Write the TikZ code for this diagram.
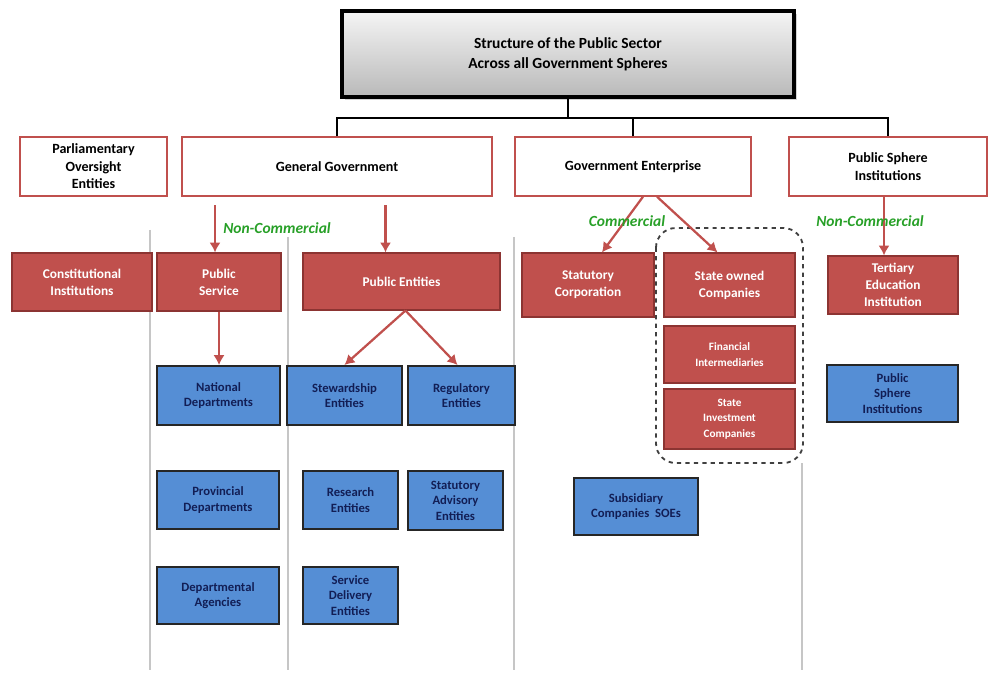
\documentclass[tikz,border=0pt]{standalone}
\usepackage{fontspec}
\setmainfont{Carlito}
\usetikzlibrary{arrows.meta,shadows}
\definecolor{secred}{RGB}{192,80,77}
\definecolor{secredline}{RGB}{140,52,50}
\definecolor{secblue}{RGB}{85,142,213}
\definecolor{secnavy}{RGB}{18,30,85}
\definecolor{secgreen}{RGB}{40,160,40}
\begin{document}
\begin{tikzpicture}[
    x=0.025cm, y=-0.025cm,
    every node/.style={align=center, inner sep=2pt},
    size/.style 2 args={minimum width=#1cm, minimum height=#2cm},
    headbox/.style={draw=black, line width=2.4pt, top color=gray!8, bottom color=gray!55,
        drop shadow={shadow xshift=2pt, shadow yshift=-2pt, opacity=0.35},
        font=\fontsize{11}{14}\selectfont\bfseries},
    sectorbox/.style={draw=secred, line width=1pt, fill=white,
        font=\fontsize{10}{12.5}\selectfont\bfseries},
    redbox/.style={draw=secredline, line width=0.8pt, fill=secred, text=white,
        font=\fontsize{9.5}{12}\selectfont\bfseries},
    smallred/.style={redbox, font=\fontsize{8}{11}\selectfont\bfseries},
    bluebox/.style={draw=black!85, line width=1.4pt, fill=secblue, text=secnavy,
        font=\fontsize{9}{11}\selectfont\bfseries},
    arr/.style={draw=secred, line width=1.6pt, -{Latex[length=7pt,width=8pt]}},
    bus/.style={draw=black, line width=1.8pt},
    divider/.style={draw=gray!45, line width=1pt},
    tag/.style={text=secgreen, font=\fontsize{11}{13}\selectfont\bfseries\itshape}
]
\useasboundingbox (0,0) rectangle (991,675);

% column dividers
\draw[divider] (150,230) -- (150,670);
\draw[divider] (288,237) -- (288,670);
\draw[divider] (514,237) -- (514,670);
\draw[divider] (802,463) -- (802,670);

% top
\node[headbox, size={11.3}{2.15}] (top) at (568,54) {Structure of the Public Sector\\Across all Government Spheres};

% sectors
\node[sectorbox, size={3.675}{1.475}] (parl) at (93.5,166.5) {Parliamentary\\Oversight\\Entities};
\node[sectorbox, size={7.75}{1.475}] (gengov) at (337,166.5) {General Government};
\node[sectorbox, size={5.9}{1.475}] (govent) at (633,166.5) {Government Enterprise};
\node[sectorbox, size={4.95}{1.475}] (pubsph) at (888,166.5) {Public Sphere\\Institutions};

\coordinate (hub) at (568,118);
\draw[bus] (top.south) -- (hub);
\draw[bus] (gengov.north) |- (hub) -| (pubsph.north);
\draw[bus] (govent.north) -- (govent.north |- hub);

% red level
\node[redbox, size={3.5}{1.45}] (consti) at (82,282) {Constitutional\\Institutions};
\node[redbox, size={3.1}{1.45}] (pubserv) at (219,282) {Public\\Service};
\node[redbox, size={4.925}{1.425}] (pubent) at (401.5,281.5) {Public Entities};
\node[redbox, size={3.3}{1.6}] (statcorp) at (588,285) {Statutory\\Corporation};
\node[redbox, size={3.275}{1.6}] (soc) at (729.5,285) {State owned\\Companies};
\node[smallred, size={3.275}{1.425}] (finint) at (729.5,354.5) {Financial\\Intermediaries};
\node[smallred, size={3.275}{1.5}] (stinv) at (729.5,419) {State\\Investment\\Companies};
\node[redbox, size={3.25}{1.45}] (tertiary) at (893,285) {Tertiary\\Education\\Institution};

\draw[dashed, line width=1.3pt, draw=black!75, rounded corners=14pt] (656,228) rectangle (803,463);

% blue level
\node[bluebox, size={3.075}{1.475}] (natdep) at (218.5,395.5) {National\\Departments};
\node[bluebox, size={2.875}{1.475}] (steward) at (344.5,395.5) {Stewardship\\Entities};
\node[bluebox, size={2.675}{1.475}] (regul) at (461.5,395.5) {Regulatory\\Entities};
\node[bluebox, size={3.05}{1.45}] (provdep) at (218,500) {Provincial\\Departments};
\node[bluebox, size={2.375}{1.45}] (research) at (350.5,500) {Research\\Entities};
\node[bluebox, size={2.375}{1.475}] (statadv) at (455.5,500.5) {Statutory\\Advisory\\Entities};
\node[bluebox, size={3.05}{1.425}] (deptag) at (218,595.5) {Departmental\\Agencies};
\node[bluebox, size={2.375}{1.425}] (service) at (350.5,595.5) {Service\\Delivery\\Entities};
\node[bluebox, size={3.1}{1.425}] (subsid) at (636,506.5) {Subsidiary\\Companies\ \ SOEs};
\node[bluebox, size={3.275}{1.425}] (psinst) at (892.5,393.5) {Public\\Sphere\\Institutions};

% arrows
\draw[arr, shorten <=6pt] ([xshift=-0.1cm]gengov.south -| pubserv.north) -- ([xshift=-0.1cm]pubserv.north);
\draw[arr, shorten <=6pt] ([xshift=-0.4cm]gengov.south -| pubent.north) -- ([xshift=-0.4cm]pubent.north);
\draw[arr] (pubserv.south) -- (pubserv.south |- natdep.north);
\draw[arr] ([xshift=0.1cm]pubent.south) -- (steward.north);
\draw[arr] ([xshift=0.1cm]pubent.south) -- ([xshift=-0.1cm]regul.north);
\draw[arr] ([xshift=0.25cm]govent.south) -- ([xshift=0.35cm]statcorp.north);
\draw[arr] ([xshift=0.6cm]govent.south) -- ([xshift=-0.3cm]soc.north);
\draw[arr] ([xshift=-0.1cm]pubsph.south) -- ([xshift=-0.1cm]pubsph.south |- tertiary.north);

% labels
\node[tag] (noncom1) at (277,228) {Non-Commercial};
\node[tag] (com) at (627,221) {Commercial};
\node[tag] (noncom2) at (870,221) {Non-Commercial};
\end{tikzpicture}
\end{document}
